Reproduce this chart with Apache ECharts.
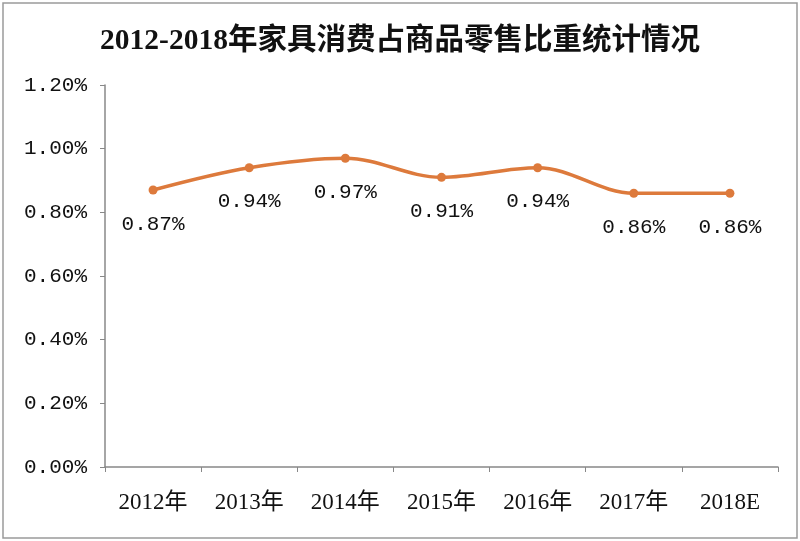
<!DOCTYPE html>
<html><head><meta charset="utf-8">
<script src="https://cdn.jsdelivr.net/npm/echarts@6/dist/echarts.min.js"></script>
<style>html,body{margin:0;padding:0;background:#fff;}#c{width:800px;height:541px;}</style>
</head><body><div id="c"></div>
<script>
var titleText = '2012-2018年家具消费占商品零售比重统计情况';
var categories = ['2012年','2013年','2014年','2015年','2016年','2017年','2018E'];
var values = [0.87, 0.94, 0.97, 0.91, 0.94, 0.86, 0.86];
var yTicks = [0, 0.2, 0.4, 0.6, 0.8, 1.0, 1.2];

var chart = echarts.init(document.getElementById('c'), null, {renderer:'canvas'});
chart.setOption({
  backgroundColor:'#fff',
  animation:false,
  graphic:[{type:'rect', shape:{x:3,y:3,width:794,height:535}, style:{fill:'none', stroke:'#9a9a9a', lineWidth:1.5}, z:-1}],
  title:{text:titleText, left:'center', top:22,
    textStyle:{fontFamily:'"Liberation Serif","Noto Sans CJK SC"', fontWeight:'bold', fontSize:29.5, color:'#111'}},
  grid:{left:105, right:22, top:85, bottom:74},
  xAxis:{type:'category', data:categories, boundaryGap:true,
    axisLine:{lineStyle:{color:'#888', width:1.5}},
    axisTick:{show:true, length:5, inside:false, alignWithLabel:false, lineStyle:{color:'#888'}},
    axisLabel:{margin:24, fontFamily:'"Liberation Serif","Noto Sans CJK SC"', fontSize:23, color:'#111'}},
  yAxis:{type:'value', min:0, max:1.2, interval:0.2,
    axisLine:{show:true, lineStyle:{color:'#888', width:1.5}},
    axisTick:{show:true, length:5, lineStyle:{color:'#888'}},
    splitLine:{show:false},
    axisLabel:{margin:18, fontFamily:'"Liberation Mono"', fontSize:21, color:'#111',
      formatter:function(v){return v.toFixed(2)+'%';}}},
  series:[{type:'line', data:values, smooth:0.35, symbol:'circle', symbolSize:9,
    lineStyle:{color:'#dd7a3c', width:3.5},
    itemStyle:{color:'#dd7a3c'},
    label:{show:true, position:'bottom', distance:19, fontFamily:'"Liberation Mono"', fontSize:21, color:'#111',
      formatter:function(p){return p.value.toFixed(2)+'%';}}}]
});
</script></body></html>
